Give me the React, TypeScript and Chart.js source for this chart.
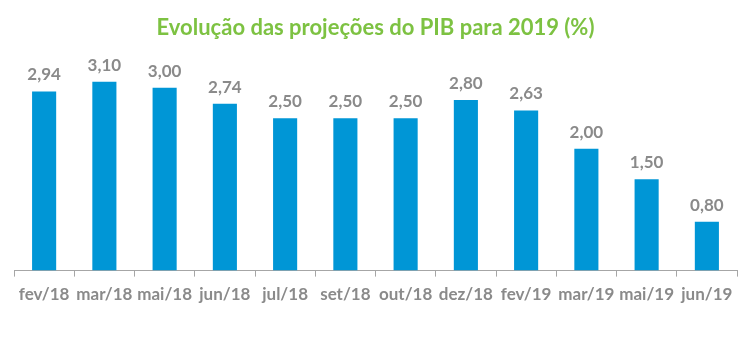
import React, { useEffect, useRef } from "react";
import { Chart, registerables } from "chart.js";

Chart.register(...registerables);

const categories = ["fev/18", "mar/18", "mai/18", "jun/18", "jul/18", "set/18", "out/18", "dez/18", "fev/19", "mar/19", "mai/19", "jun/19"];
const values = [2.94, 3.1, 3.0, 2.74, 2.5, 2.5, 2.5, 2.8, 2.63, 2.0, 1.5, 0.8];
const titleText = "Evolução das projeções do PIB para 2019 (%)";

const FONT = "Lato, 'Open Sans', sans-serif";
const GRAY = "#8a8a8a";

const labelPlugin = {
  id: "barLabels",
  afterDatasetsDraw(chart: any) {
    const ctx = chart.ctx;
    const meta = chart.getDatasetMeta(0);
    ctx.save();
    ctx.font = `bold 17px ${FONT}`;
    ctx.fillStyle = GRAY;
    ctx.textAlign = "center";
    ctx.textBaseline = "bottom";
    meta.data.forEach((bar: any, i: number) => {
      const txt = values[i].toFixed(2).replace(".", ",");
      ctx.fillText(txt, bar.x, bar.y - 8);
    });
    ctx.restore();
  },
};

export default function App() {
  const ref = useRef<HTMLCanvasElement>(null);
  useEffect(() => {
    document.body.style.margin = "0";
    const chart = new Chart(ref.current!, {
      type: "bar",
      data: {
        labels: categories,
        datasets: [
          {
            data: values,
            backgroundColor: "#0096d6",
            categoryPercentage: 1,
            barPercentage: 0.4,
          },
        ],
      },
      options: {
        animation: false,
        responsive: false,
        maintainAspectRatio: false,
        layout: { padding: { left: 14, right: 14, top: 0, bottom: 44 } },
        plugins: {
          legend: { display: false },
          tooltip: { enabled: false },
          title: {
            display: true,
            text: titleText,
            color: "#7dc242",
            font: { family: FONT, size: 22, weight: "bold" },
            padding: { top: 15, bottom: 16 },
          },
        },
        scales: {
          y: { display: false, min: 0, max: 3.5 },
          x: {
            grid: {
              offset: true,
              drawOnChartArea: false,
              drawTicks: true,
              tickLength: 6,
              color: "#a6a6a6",
            },
            border: { color: "#a6a6a6", width: 1 },
            ticks: {
              color: GRAY,
              padding: 8,
              font: { family: FONT, size: 17, weight: "bold" },
              maxRotation: 0,
              autoSkip: false,
            },
          },
        },
      },
      plugins: [labelPlugin],
    });
    return () => chart.destroy();
  }, []);
  return (
    <div style={{ width: 751, height: 357, background: "#fff" }}>
      <canvas ref={ref} width={751} height={357} />
    </div>
  );
}
